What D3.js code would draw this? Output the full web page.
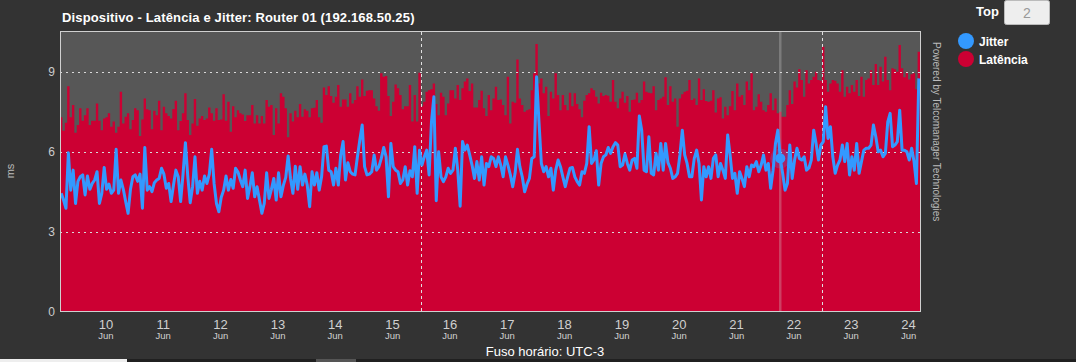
<!DOCTYPE html>
<html lang="pt-BR">
<head>
    <meta charset="UTF-8">
    <title>Dispositivo - Latência e Jitter</title>
    <script src="https://cdnjs.cloudflare.com/ajax/libs/d3/7.8.5/d3.min.js"></script>
    <style>
        body {
            margin: 0;
            padding: 0;
            background-color: #333333;
            font-family: "Liberation Sans", Arial, sans-serif;
        }
        #chart svg {
            display: block;
        }
    </style>
</head>
<body>
    <div id="chart"></div>

    <script>
        // Latência (ms) - uma amostra por hora, a partir de 09/06 05:00
        const latencia1 = [
            7.30,6.80,7.10,8.47,7.30,7.76,6.72,7.01,7.64,7.17,
            7.38,7.64,7.01,7.17,7.17,7.82,7.17,6.82,7.26,7.30,
            7.45,6.95,7.14,6.72,6.95,8.26,7.07,7.32,7.45,6.85,
            7.20,7.64,7.57,6.60,7.22,8.01,7.60,7.57,6.85,7.55,
            7.38,7.92,6.82,7.70,7.45,7.35,7.26,7.61,7.92,6.82,
            7.16,7.45,8.20,7.20,6.64,7.07,7.99,6.98,7.26,7.35,
            7.20,7.26,7.67,7.45,7.17,7.64,7.20,7.22,8.17,7.17,
            7.88,6.76,7.72,7.30,7.57,7.45,7.41,7.16,7.38,7.38,
            7.76,7.07,7.38,7.07,7.35,7.07,7.95,7.70,7.76,6.64,
            7.64,7.07,8.20,8.07,7.64,6.55,7.45,7.14,7.55,7.30
        ];
        const latencia2 = [
            7.80,7.32,7.60,7.55,7.30,7.64,7.66,7.95,7.30,7.10,
            8.42,8.14,8.47,8.10,7.85,8.07,8.51,7.70,7.97,7.97,
            7.70,8.20,7.82,7.95,8.47,8.07,8.72,8.10,8.30,8.32,
            8.32,8.01,7.72,7.55,8.95,8.82,8.85,8.10,7.35,7.88,
            8.53,8.39,8.14,7.60,7.72,7.72,8.51,7.14,8.14,7.14,
            8.97,7.72,7.88,8.26,8.32,8.35,8.57,7.80,7.38,8.22,
            8.07,7.38,7.82,8.32,8.32,8.01,8.51,7.95,8.39,8.64,
            8.76,8.29,8.57,7.67,7.67,7.95,8.30,7.64,7.35,8.14,
            7.57,8.01,8.45,7.95,7.97,7.76,7.38,8.82,7.07,7.88,
            7.85,9.47,8.01,7.76,7.51,7.57,7.60,8.32,8.95,10.05,
            8.57,8.76,8.20
        ];
        const latencia3 = [
            8.45,7.35,8.26,8.01,8.95,8.14,7.57,8.14,7.76,7.57,
            8.22,7.72,8.20,7.80,7.60,7.30,7.92,8.14,8.20,8.39,
            8.32,8.07,7.82,8.22,8.10,8.14,8.11,7.88,8.70,7.88,
            7.64,8.01,8.26,7.85,8.10,7.51,7.95,7.97,8.22,7.85,
            7.95,8.64,8.26,8.22,8.20,8.47,7.57,7.95,8.01,8.07,
            8.80,7.76,8.47,7.88,8.01,6.95,8.01,8.17,8.26,8.30,
            8.70,7.95,8.01,7.76,8.76,7.95,8.35,7.91,7.88,7.92,
            8.32,7.48,8.01,8.05,7.26,7.70,7.38,7.72,8.29,7.57,
            8.57,8.07,8.14,7.76,8.64,8.32,8.95,7.57,7.70,8.17,
            7.88,7.57,7.51,7.76,8.20,7.57,8.01,7.45,7.51,7.32,
            7.32,7.76
        ];
        const latencia4 = [
            8.32,7.80,8.64,8.42,9.10,8.70,8.07,9.07,8.57,8.70,
            8.82,9.01,8.70,8.67,9.95,8.70,8.26,8.57,8.70,8.67,
            8.57,8.26,9.07,8.07,8.45,8.20,8.51,8.26,8.70,8.10,
            8.82,8.07,8.70,8.76,9.07,8.51,9.30,8.51,9.20,8.64,
            9.57,8.70,8.32,9.14,9.10,9.01,10.01,9.14,8.80,9.01,
            8.72,8.92,8.95,8.35,9.76
        ];

        // Jitter (ms) - mesmas horas
        const jitter1 = [
            4.45,4.20,3.89,5.97,4.57,5.32,4.07,4.90,5.07,5.14,
            4.39,5.10,4.60,4.82,4.95,5.26,4.07,4.45,5.42,4.60,
            4.80,4.45,4.57,6.10,4.45,4.95,4.60,4.14,3.70,4.60,
            5.07,5.14,4.90,5.17,3.89,6.17,4.57,4.70,4.51,4.85,
            4.95,5.01,5.39,5.17,4.64,4.82,4.14,4.75,5.32,5.07,
            4.14,5.17,6.35,5.07,4.10,4.70,5.82,4.45,4.90,4.57,
            5.10,4.82,5.17,6.10,4.82,4.07,3.76,4.30,4.57,5.10,
            4.57,4.97,4.64,5.39,5.25,4.95,4.70,5.32,4.26,4.70,
            5.22,4.32,4.70,4.20,3.70,4.07,5.22,4.26,4.60,5.01,
            4.20,5.22,4.32,4.75,5.05,5.85,5.01,4.45,5.47,4.60
        ];
        const jitter2 = [
            5.45,4.76,5.17,4.76,3.95,5.26,4.76,5.22,4.57,5.07,
            6.20,6.22,5.32,5.26,4.76,5.39,4.76,5.89,6.39,4.95,
            5.60,5.26,5.17,5.14,5.82,6.45,7.01,5.45,5.14,5.17,
            5.26,5.89,5.32,5.45,5.76,6.17,5.82,4.32,6.32,5.45,
            5.32,5.26,4.82,4.95,5.45,4.76,5.30,5.07,6.20,4.45,
            6.07,5.51,5.82,6.07,5.14,7.13,8.07,4.17,6.01,5.07,
            4.89,5.07,5.39,5.20,5.32,6.14,5.32,3.97,6.39,6.07,
            6.26,5.89,5.50,5.01,5.64,4.95,5.82,4.76,5.57,5.45,
            5.82,5.76,5.45,5.82,5.51,5.07,5.82,5.51,5.15,4.70,
            5.20,6.10,5.45,5.07,4.51,4.80,5.01,5.76,5.82,8.82,
            7.13,5.57,5.26
        ];
        const jitter3 = [
            5.45,5.07,5.39,4.57,5.32,5.70,5.45,5.07,4.70,5.07,
            5.39,5.42,5.07,4.89,4.76,5.26,5.20,5.57,6.95,5.57,
            5.70,6.05,4.76,5.57,5.82,5.89,6.17,5.95,6.20,6.35,
            6.26,5.45,5.51,5.92,5.57,5.32,5.70,5.76,5.39,7.35,
            6.82,5.32,5.26,6.57,5.20,5.14,5.95,5.32,6.32,5.32,
            6.32,5.60,5.39,5.01,5.07,5.20,5.89,6.82,5.89,5.57,
            5.07,5.07,5.76,6.07,5.57,4.20,5.45,5.07,5.45,5.01,
            5.76,5.89,5.07,5.57,5.32,5.01,6.64,5.89,5.01,5.20,
            4.45,5.26,5.00,4.70,5.45,5.07,5.51,5.45,5.64,5.26,
            5.51,5.89,5.32,5.57,4.64,5.32,6.32,6.82,5.76,5.20,
            4.57,4.82
        ];
        const jitter4 = [
            6.26,5.01,5.70,6.14,5.76,5.70,5.82,5.32,5.40,5.70,
            6.82,6.32,5.70,6.26,6.39,7.70,6.51,6.95,5.82,5.20,
            5.51,5.70,6.26,5.64,6.32,5.14,5.82,5.32,6.32,5.20,
            5.64,6.07,6.14,6.14,6.26,7.01,6.57,6.01,6.07,5.82,
            5.95,7.13,7.45,6.20,6.26,6.39,7.57,6.07,6.07,6.01,
            5.70,6.14,5.64,4.82,8.76
        ];

        const latencia = [latencia1, latencia2, latencia3, latencia4].flat();
        const jitter = [jitter1, jitter2, jitter3, jitter4].flat();

        const inicio = new Date(2024, 5, 9, 5, 0);
        const fim = new Date(2024, 5, 24, 5, 0);
        const diasTicks = d3.timeDay.range(new Date(2024, 5, 10), new Date(2024, 5, 24, 1));
        const linhasPlot = [new Date(2024, 5, 15, 12), new Date(2024, 5, 22, 12)];
        const yTicks = [0, 3, 6, 9];
        const hoverIndex = 301;

        const width = 1076;
        const height = 362;
        const plot = {left: 60, top: 32, right: 920, bottom: 312};
        const hora = 3600 * 1000;
        const fonte = "'Liberation Sans', Arial, sans-serif";

        const svg = d3.select("#chart")
            .append("svg")
            .attr("width", width)
            .attr("height", height)
            .attr("font-family", fonte);

        svg.append("rect")
            .attr("width", width)
            .attr("height", height)
            .attr("fill", "#333333");

        const x = d3.scaleTime()
            .domain([inicio, fim])
            .range([plot.left, plot.right]);

        const y = d3.scaleLinear()
            .domain([0, 10.5])
            .range([plot.bottom, plot.top]);

        const latPts = latencia.map((v, i) => ({t: new Date(+inicio + i * hora), v}));
        const jitPts = jitter.map((v, i) => ({t: new Date(+inicio + i * hora + hora / 2), v}));

        // título
        svg.append("text")
            .attr("x", 62)
            .attr("y", 22)
            .attr("fill", "#ffffff")
            .attr("font-size", 13)
            .attr("font-weight", "bold")
            .attr("letter-spacing", 0.15)
            .text("Dispositivo - Latência e Jitter: Router 01 (192.168.50.25)");

        svg.append("defs").append("clipPath")
            .attr("id", "clip")
            .append("rect")
            .attr("x", plot.left)
            .attr("y", plot.top)
            .attr("width", plot.right - plot.left)
            .attr("height", plot.bottom - plot.top);

        svg.append("rect")
            .attr("x", plot.left)
            .attr("y", plot.top)
            .attr("width", plot.right - plot.left)
            .attr("height", plot.bottom - plot.top)
            .attr("fill", "#575757");

        const g = svg.append("g").attr("clip-path", "url(#clip)");

        const area = d3.area()
            .curve(d3.curveStepAfter)
            .x(d => x(d.t))
            .y0(y(0))
            .y1(d => y(d.v));

        g.append("path")
            .datum(latPts.concat([{t: fim, v: latencia[latencia.length - 1]}]))
            .attr("fill", "#cc0033")
            .attr("d", area);

        // grade horizontal
        g.selectAll(".grid")
            .data(yTicks.filter(d => d > 0))
            .join("line")
            .attr("x1", plot.left)
            .attr("x2", plot.right)
            .attr("y1", d => Math.round(y(d)) + 0.5)
            .attr("y2", d => Math.round(y(d)) + 0.5)
            .attr("stroke", "#d8d8d8")
            .attr("stroke-width", 1)
            .attr("stroke-dasharray", "2,4");

        g.selectAll(".plotline")
            .data(linhasPlot)
            .join("line")
            .attr("x1", d => Math.round(x(d)) + 0.5)
            .attr("x2", d => Math.round(x(d)) + 0.5)
            .attr("y1", plot.top)
            .attr("y2", plot.bottom)
            .attr("stroke", "#e0e0e0")
            .attr("stroke-width", 1)
            .attr("stroke-dasharray", "3,3");

        // crosshair
        const hx = x(jitPts[hoverIndex].t);
        g.append("line")
            .attr("x1", hx)
            .attr("x2", hx)
            .attr("y1", plot.top)
            .attr("y2", plot.bottom)
            .attr("stroke", "rgba(210,210,210,0.3)")
            .attr("stroke-width", 2.5);

        const line = d3.line()
            .x(d => x(d.t))
            .y(d => y(d.v));

        g.append("path")
            .datum(jitPts)
            .attr("fill", "none")
            .attr("stroke", "#3399ff")
            .attr("stroke-width", 3)
            .attr("stroke-linejoin", "round")
            .attr("d", line);

        g.append("circle")
            .attr("cx", hx)
            .attr("cy", y(jitter[hoverIndex]))
            .attr("r", 10)
            .attr("fill", "#3399ff")
            .attr("opacity", 0.25);

        g.append("circle")
            .attr("cx", hx)
            .attr("cy", y(jitter[hoverIndex]))
            .attr("r", 5)
            .attr("fill", "#3399ff");

        // borda
        svg.append("rect")
            .attr("x", plot.left + 0.5)
            .attr("y", plot.top - 0.5)
            .attr("width", plot.right - plot.left)
            .attr("height", plot.bottom - plot.top)
            .attr("fill", "none")
            .attr("stroke", "#d0d0d0")
            .attr("stroke-width", 1);

        // eixo y
        const yAxis = svg.append("g")
            .attr("transform", `translate(${plot.left},0)`)
            .call(d3.axisLeft(y).tickValues(yTicks).tickSize(0).tickPadding(5));
        yAxis.select(".domain").remove();
        yAxis.selectAll("text")
            .attr("fill", "#cccccc")
            .attr("font-size", 12)
            .attr("font-family", fonte);

        svg.append("text")
            .attr("transform", "translate(14,171) rotate(-90)")
            .attr("text-anchor", "middle")
            .attr("fill", "#bbbbbb")
            .attr("font-size", 11)
            .text("ms");

        // eixo x: dia + mês no mesmo texto
        const xAxis = svg.append("g")
            .attr("transform", `translate(0,${plot.bottom})`)
            .call(d3.axisBottom(x).tickValues(diasTicks).tickSize(0).tickFormat(""));
        xAxis.select(".domain").remove();
        xAxis.selectAll(".tick text").remove();
        const rot = xAxis.selectAll(".tick")
            .append("text")
            .attr("text-anchor", "middle")
            .attr("fill", "#d0d0d0")
            .attr("font-family", fonte);
        rot.append("tspan")
            .attr("x", 0)
            .attr("y", 17)
            .attr("font-size", 13)
            .text(d => d3.timeFormat("%d")(d));
        rot.append("tspan")
            .attr("x", 0)
            .attr("y", 27)
            .attr("font-size", 9.5)
            .text("Jun");

        svg.append("text")
            .attr("x", 545)
            .attr("y", 356)
            .attr("text-anchor", "middle")
            .attr("fill", "#ffffff")
            .attr("font-size", 13)
            .text("Fuso horário: UTC-3");

        svg.append("text")
            .attr("transform", "translate(933,42) rotate(90)")
            .attr("fill", "#bbbbbb")
            .attr("font-size", 10)
            .text("Powered by Telcomanager Technologies");

        // legenda
        const legenda = [
            {nome: "Jitter", cor: "#3399ff"},
            {nome: "Latência", cor: "#cc0033"}
        ];
        const leg = svg.append("g")
            .selectAll("g")
            .data(legenda)
            .join("g")
            .attr("transform", (d, i) => `translate(966,${41 + i * 18})`);
        leg.append("circle")
            .attr("r", 8)
            .attr("fill", d => d.cor);
        leg.append("text")
            .attr("x", 13)
            .attr("y", 4.5)
            .attr("fill", "#ffffff")
            .attr("font-size", 12)
            .attr("font-weight", "bold")
            .text(d => d.nome);

        // seletor "Top"
        svg.append("text")
            .attr("x", 976)
            .attr("y", 16)
            .attr("fill", "#ffffff")
            .attr("font-size", 13)
            .attr("font-weight", "bold")
            .text("Top");
        svg.append("rect")
            .attr("x", 1004.5)
            .attr("y", 0.5)
            .attr("width", 45)
            .attr("height", 24)
            .attr("rx", 2)
            .attr("fill", "#eeeeee")
            .attr("stroke", "#bbbbbb");
        svg.append("text")
            .attr("x", 1027)
            .attr("y", 18)
            .attr("text-anchor", "middle")
            .attr("fill", "#999999")
            .attr("font-size", 14)
            .text("2");

        // faixa inferior cortada
        svg.append("rect").attr("x", 0).attr("y", 359).attr("width", width).attr("height", 3).attr("fill", "#202020");
        svg.append("rect").attr("x", 0).attr("y", 359).attr("width", 127).attr("height", 3).attr("fill", "#eeeeee");
        svg.append("rect").attr("x", 316).attr("y", 359).attr("width", 40).attr("height", 3).attr("fill", "#555555");
    </script>
</body>
</html>
